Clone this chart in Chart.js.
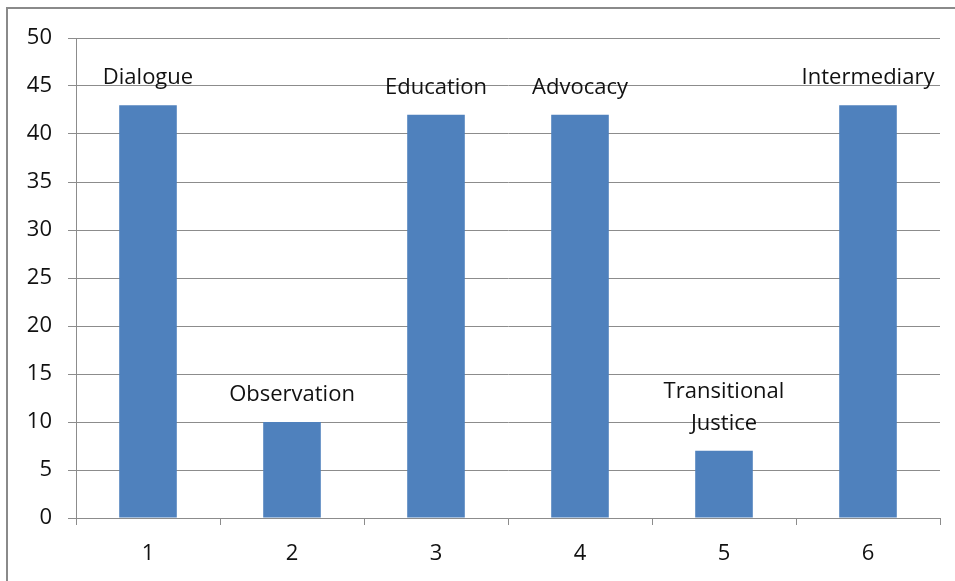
<!DOCTYPE html>
<html>
<head>
<meta charset="utf-8">
<script src="https://cdn.jsdelivr.net/npm/chart.js@4.4.1/dist/chart.umd.min.js"></script>
<style>
  html, body { margin: 0; padding: 0; background: #fff; }
  #wrap { position: relative; width: 955px; height: 581px; }
  #frame { position: absolute; left: 6px; top: 7px; right: 0; bottom: 0;
           border-left: 2px solid #8a8a8a; border-top: 2px solid #8a8a8a; pointer-events: none; }
  canvas { position: absolute; left: 0; top: 0; }
</style>
</head>
<body>
<div id="wrap">
  <canvas id="chart" width="955" height="581"></canvas>
  <div id="frame"></div>
</div>
<script>
// Category ticks along the x axis
const categories = ['1', '2', '3', '4', '5', '6'];
// Number of responses per activity
const values = [43, 10, 42, 42, 7, 43];
// Activity names written above each bar (multi-line where wrapped)
const barNames = [['Dialogue'], ['Observation'], ['Education'], ['Advocacy'], ['Transitional', 'Justice'], ['Intermediary']];

const FONT = '"Open Sans", "Liberation Sans", sans-serif';
const GRID = '#8c8c8c';
const TEXT = '#111111';

// Writes each activity name above its bar, anchored to the bar top
const barNamePlugin = {
  id: 'barNames',
  afterDatasetsDraw(chart) {
    const ctx = chart.ctx;
    const meta = chart.getDatasetMeta(0);
    ctx.save();
    ctx.font = '22px ' + FONT;
    ctx.fillStyle = TEXT;
    ctx.textAlign = 'center';
    ctx.textBaseline = 'middle';
    meta.data.forEach((bar, i) => {
      const lines = barNames[i];
      const n = lines.length;
      lines.forEach((line, j) => {
        ctx.fillText(line, bar.x, bar.y - 27 - (n - 1 - j) * 32);
      });
    });
    ctx.restore();
  }
};

new Chart(document.getElementById('chart'), {
  type: 'bar',
  data: {
    labels: categories,
    datasets: [{
      data: values,
      backgroundColor: '#4f81bd',
      borderWidth: 0,
      barPercentage: 0.4,
      categoryPercentage: 1.0
    }]
  },
  options: {
    responsive: false,
    animation: false,
    layout: { padding: { left: 0, right: 15, top: 38, bottom: 0 } },
    plugins: { legend: { display: false }, tooltip: { enabled: false } },
    scales: {
      x: {
        grid: { drawOnChartArea: false, drawTicks: true, tickLength: 7, color: GRID, offset: true },
        border: { color: GRID, width: 1 },
        ticks: { font: { family: FONT, size: 22 }, color: TEXT, padding: 16 },
        afterFit(scale) { scale.height = 63; }
      },
      y: {
        min: 0,
        max: 50,
        ticks: { stepSize: 5, font: { family: FONT, size: 22 }, color: TEXT, padding: 16 },
        grid: { color: GRID, tickLength: 8 },
        border: { color: GRID, width: 1 },
        afterFit(scale) { scale.width = 76; }
      }
    }
  },
  plugins: [barNamePlugin]
});
</script>
</body>
</html>
